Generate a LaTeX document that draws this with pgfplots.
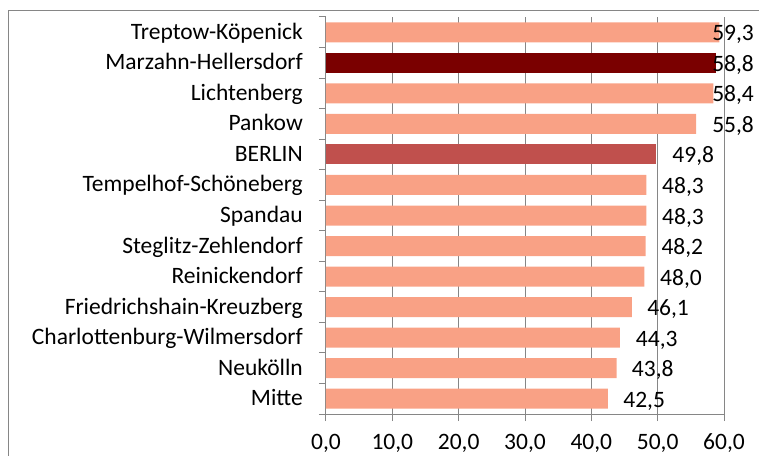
\documentclass[border=0pt]{standalone}
\usepackage{pgfplots}
\usepackage{pgfplotstable}
\pgfplotsset{compat=1.18}
\usepackage{fontspec}
\setmainfont{Carlito}
\definecolor{salmon}{HTML}{F9A185}
\definecolor{darkred}{HTML}{7A0000}
\definecolor{berlin}{HTML}{C0504D}
\definecolor{gridgray}{HTML}{868686}
\pgfplotstableread{
y v
0 42.5
1 43.8
2 44.3
3 46.1
4 48.0
5 48.2
6 48.3
7 48.3
9 55.8
10 58.4
12 59.3
}\normaltab
\pgfplotstableread{
y v
8 49.8
}\berlintab
\pgfplotstableread{
y v
11 58.8
}\marzahntab
\pgfplotstableread{
y lx v
0 44.8 42.5
1 46.1 43.8
2 46.7 44.3
3 48.4 46.1
4 50.35 48.0
5 50.55 48.2
6 50.65 48.3
7 50.65 48.3
8 52.2 49.8
9 58.2 55.8
10 58.2 58.4
11 58.2 58.8
12 58.2 59.3
}\labeltab
\begin{document}
\begin{tikzpicture}[x=1pt,y=1pt]
\useasboundingbox (-326,-41) rectangle (433,414);
\draw[gridgray, line width=1pt] (-317.5,-60) -- (-317.5,403.5) -- (450,403.5);
\begin{axis}[
  scale only axis, width=398pt, height=397pt,
  xmin=0, xmax=60, ymin=-0.5, ymax=12.5,
  clip=false,
  axis x line*=bottom, axis y line*=left,
  axis line style={gridgray, line width=1pt, -},
  tick align=outside,
  major tick length=7pt,
  tick style={gridgray, line width=1pt},
  xtick={0,10,...,60},
  xmajorgrids,
  grid style={gridgray, line width=1pt},
  ytick={-0.5,0.5,...,12.5},
  yticklabels={},
  extra y ticks={0,1,...,12},
  extra y tick labels={Mitte,Neukölln,Charlottenburg-Wilmersdorf,Friedrichshain-Kreuzberg,Reinickendorf,Steglitz-Zehlendorf,Spandau,Tempelhof-Schöneberg,BERLIN,Pankow,Lichtenberg,Marzahn-Hellersdorf,Treptow-Köpenick},
  extra y tick style={major tick length=0pt, yticklabel style={anchor=base east, inner sep=0pt, xshift=-23pt, yshift=-7pt}},
  yticklabel style={font=\fontsize{23.5}{28}\selectfont},
  xticklabel style={font=\fontsize{23.5}{28}\selectfont, anchor=base, inner sep=0pt, yshift=-28.5pt,
    /pgf/number format/.cd, fixed, fixed zerofill, precision=1, use comma, assume math mode=true},
]
\addplot[xbar, bar width=20pt, bar shift=0pt, fill=salmon, draw=none] table[x=v, y=y] {\normaltab};
\addplot[xbar, bar width=20pt, bar shift=0pt, fill=berlin, draw=none] table[x=v, y=y] {\berlintab};
\addplot[xbar, bar width=20pt, bar shift=0pt, fill=darkred, draw=none] table[x=v, y=y] {\marzahntab};
\addplot[only marks, mark=none, point meta=explicit,
  nodes near coords,
  every node near coord/.append style={anchor=base west, inner sep=0pt, yshift=-8.5pt,
    font=\fontsize{23.5}{28}\selectfont, text=black,
    /pgf/number format/.cd, fixed, fixed zerofill, precision=1, use comma, assume math mode=true}]
  table[x=lx, y=y, meta=v] {\labeltab};
\end{axis}
\end{tikzpicture}
\end{document}
